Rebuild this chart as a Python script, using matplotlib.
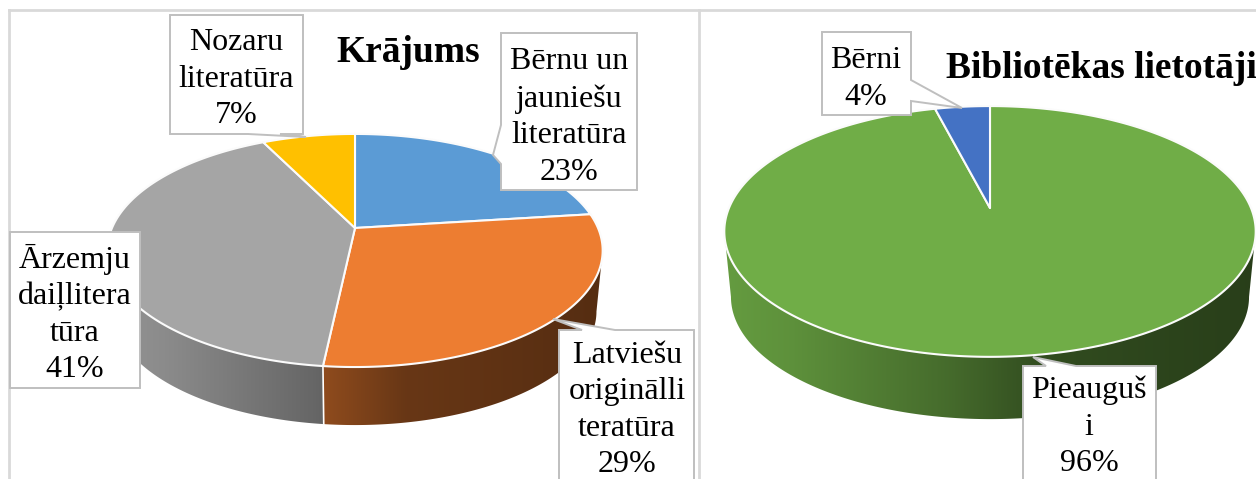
import numpy as np
import matplotlib
matplotlib.use("Agg")
import matplotlib.pyplot as plt
from matplotlib.patches import Polygon
from matplotlib.colors import to_rgb

plt.rcParams['font.family'] = ['Liberation Serif', 'DejaVu Serif']

# ---- data ----
stock_values = [23, 28.7, 41, 7.3]
stock_labels = ["Bērnu un\njauniešu\nliteratūra\n23%", "Latviešu\noriginālli\nteratūra\n29%",
                "Ārzemju\ndaiļlitera\ntūra\n41%", "Nozaru\nliteratūra\n7%"]
stock_colors = ["#5b9bd5", "#ed7d31", "#a5a5a5", "#ffc000"]
stock_title = "Krājums"

user_values = [96, 4]
user_labels = ["Pieauguš\ni\n96%", "Bērni\n4%"]
user_colors = ["#70ad47", "#4472c4"]
user_title = "Bibliotēkas lietotāji"

W, H = 1256, 479
fig = plt.figure(figsize=(W / 100, H / 100), dpi=100, facecolor="white")
ax = fig.add_axes([0, 0, 1, 1])
ax.axis("off")

FRAME = "#d9d9d9"
ax.plot([9, 9], [H, 10], color=FRAME, lw=2)
ax.plot([9, W], [10, 10], color=FRAME, lw=2)
ax.plot([699, 699], [10, H], color=FRAME, lw=2)


def shade(t):
    return np.interp(t, [0, 0.12, 0.42, 0.6, 1.0], [0.90, 0.84, 0.62, 0.44, 0.36])


def project(theta, cx, cy, b, a, k, scale=1.0, drop=0.0):
    u, v = np.sin(theta), np.cos(theta)
    w = 1 + k * v
    return cx + scale * b * u / w, cy - scale * a * v / w + drop


def pie3d(values, colors, cx, cy, b, a, k, depth):
    fr = np.cumsum([0] + list(values)) / sum(values) * 2 * np.pi
    left, right = cx - b * 1.02, cx + b * 1.02
    lo = np.arccos(-k)
    hi = 2 * np.pi - lo
    # side wall: one gradient image per slice, clipped to the wall outline
    for s, e, c in zip(fr[:-1], fr[1:], colors):
        s2, e2 = max(s, lo), min(e, hi)
        if e2 <= s2:
            continue
        th = np.linspace(s2, e2, 200)
        x0, y0 = project(th, cx, cy, b, a, k)
        x1, y1 = project(th[::-1], cx, cy, b, a, k, 0.975, depth)
        outline = np.column_stack([np.r_[x0, x1], np.r_[y0, y1]])
        xs = np.linspace(left, right, 400)
        grad = np.array(to_rgb(c))[None, None, :] * shade((xs - left) / (right - left))[None, :, None]
        im = ax.imshow(np.clip(grad, 0, 1), extent=[left, right, cy + 260, cy - 160], aspect="auto",
                       interpolation="bilinear", zorder=2)
        clip = Polygon(outline, closed=True, transform=ax.transData, facecolor="none", edgecolor="none")
        ax.add_patch(clip)
        im.set_clip_path(clip)
    for t in fr[:-1]:
        if np.cos(t) < -0.3:
            ax.plot(*zip(project(t, cx, cy, b, a, k), project(t, cx, cy, b, a, k, 0.975, depth)),
                    color="white", lw=1.2, zorder=3)
    # top face
    for s, e, c in zip(fr[:-1], fr[1:], colors):
        th = np.linspace(s, e, max(8, int((e - s) * 120)))
        xs, ys = project(th, cx, cy, b, a, k)
        pts = np.column_stack([np.r_[cx, xs], np.r_[cy, ys]])
        ax.add_patch(Polygon(pts, closed=True, facecolor=c, edgecolor="#fbfbfb", lw=1.5, zorder=4, joinstyle="round"))


def callout(outline, text, xc, yc):
    ax.add_patch(Polygon(outline, closed=True, facecolor="white", edgecolor="#bfbfbf", lw=1.4, zorder=6, clip_on=False))
    ax.text(xc, yc, text, ha="center", va="center", fontsize=23, color="black", linespacing=1.34, zorder=7)


pie3d(stock_values, stock_colors, 355, 228, 243, 112.2, 0.193, 61.5)
pie3d(user_values, user_colors, 990, 208, 261, 121, 0.187, 66)

ax.text(408, 52, stock_title, ha="center", va="center", fontsize=27, fontweight="bold", zorder=8)
ax.text(1101, 68, user_title, ha="center", va="center", fontsize=27, fontweight="bold", zorder=8)

callout([(170, 15), (303, 15), (303, 134), (280, 134), (306, 137), (248, 134), (170, 134)],
        stock_labels[3], 236, 79)
callout([(501, 33), (637, 33), (637, 190), (501, 190), (501, 164), (493, 155), (501, 125)],
        stock_labels[0], 569, 117)
callout([(10, 232), (140, 232), (140, 388), (10, 388)], stock_labels[2], 75, 314)
callout([(559, 330), (582, 330), (553, 319), (615, 330), (694, 330), (694, 500), (559, 500)],
        stock_labels[1], 627, 410)
callout([(822, 32), (911, 32), (911, 80), (962, 108), (911, 101), (911, 115), (822, 115)],
        user_labels[1], 866, 79)
callout([(1023, 366), (1046, 366), (1033, 357), (1076, 366), (1156, 366), (1156, 500), (1023, 500)],
        user_labels[0], 1089, 427)

ax.set_xlim(0, W)
ax.set_ylim(H, 0)
fig.savefig("out.png", dpi=100, facecolor="white")
